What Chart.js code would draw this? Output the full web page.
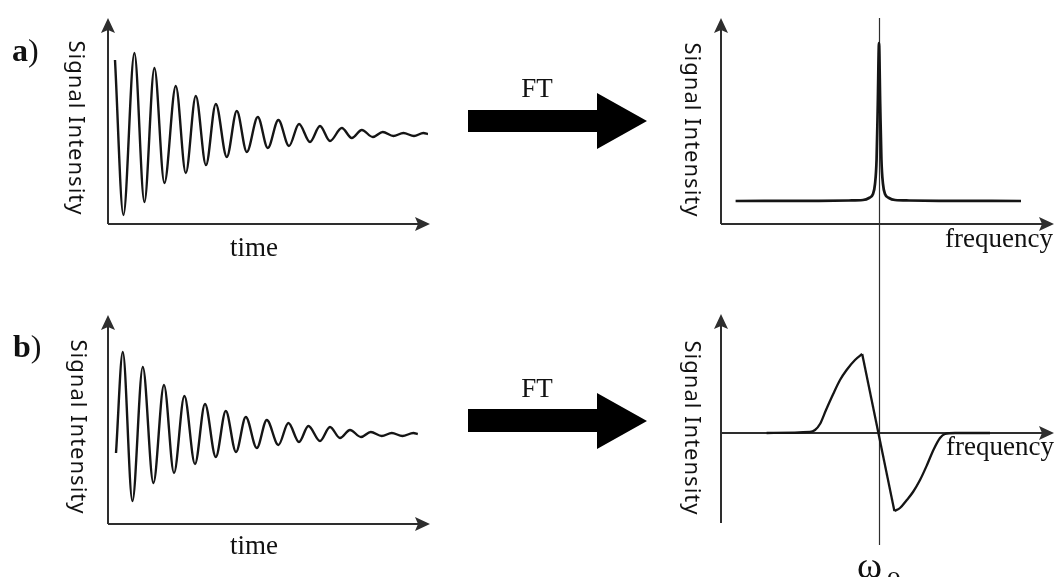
<!DOCTYPE html>
<html>
<head>
<meta charset="utf-8">
<script src="https://cdn.jsdelivr.net/npm/chart.js@4.4.1/dist/chart.umd.min.js"></script>
<style>
    body { margin: 0; background: #fff; }
    #fig { position: relative; width: 1054px; height: 577px; overflow: hidden; background: #fff; }
    .panel { position: absolute; }
    .serif { position: absolute; font-family: 'Liberation Serif', 'Times New Roman', serif; font-size: 27px; line-height: 1; color: #111; white-space: nowrap; }
    .tag { font-size: 32px; }
    .ylab { position: absolute; font-family: 'Noto Sans', 'Open Sans', sans-serif; font-size: 22px; letter-spacing: 1px; line-height: 1; color: #111; white-space: nowrap; transform: translate(-50%, -50%) rotate(90deg); }
    #arrows { position: absolute; left: 0; top: 0; }
</style>
</head>
<body>
<div id="fig">
    <div class="panel" style="left:100px;top:12px;width:340px;height:222px"><canvas id="chartAL"></canvas></div>
    <div class="panel" style="left:100px;top:305px;width:340px;height:230px"><canvas id="chartBL"></canvas></div>
    <div class="panel" style="left:700px;top:0px;width:354px;height:290px"><canvas id="chartAR"></canvas></div>
    <div class="panel" style="left:700px;top:290px;width:354px;height:287px"><canvas id="chartBR"></canvas></div>

    <svg id="arrows" width="1054" height="577">
        <polygon points="468,110 597,110 597,93 647,121 597,149 597,132 468,132" fill="#000"/>
        <polygon points="468,409 597,409 597,393 647,421 597,449 597,432 468,432" fill="#000"/>
    </svg>

    <div class="serif tag" style="left:12px;top:34px"><b>a</b>)</div>
    <div class="serif tag" style="left:13px;top:330px"><b>b</b>)</div>

    <div class="ylab" style="left:78px;top:128px">Signal Intensity</div>
    <div class="ylab" style="left:80px;top:427px">Signal Intensity</div>
    <div class="ylab" style="left:694px;top:130px">Signal Intensity</div>
    <div class="ylab" style="left:694px;top:428px">Signal Intensity</div>

    <div class="serif" style="left:254px;top:234px;transform:translateX(-50%)">time</div>
    <div class="serif" style="left:254px;top:532px;transform:translateX(-50%)">time</div>
    <div class="serif" style="left:945px;top:225px">frequency</div>
    <div class="serif" style="left:946px;top:433px">frequency</div>
    <div class="serif" style="left:537px;top:75px;transform:translateX(-50%)">FT</div>
    <div class="serif" style="left:537px;top:375px;transform:translateX(-50%)">FT</div>

    <div class="serif" style="left:857px;top:546px;font-size:38px">ω</div>
    <div class="serif" style="left:887px;top:563px">o</div>
</div>

<script>
// FID a) : time (ms) / amplitude, read at the turning points
const fidTimeA = [3.5, 7.7, 13.2, 18.2, 23.2, 28.2, 33.9, 38.9, 43.9, 49.0, 53.9, 59.4, 64.4, 69.4, 74.9, 79.9,
    85.2, 90.5, 95.5, 101.0, 106.0, 111.0, 116.9, 121.9, 126.9, 132.4, 137.4, 142.7, 147.7, 153.0, 157.7, 160.0]
const fidAmpA = [0.74, -0.81, 0.81, -0.68, 0.66, -0.49, 0.48, -0.39, 0.38, -0.31, 0.30, -0.23, 0.23, -0.18, 0.17, -0.14,
    0.14, -0.12, 0.10, -0.08, 0.08, -0.07, 0.06, -0.04, 0.04, -0.03, 0.02, -0.02, 0.01, -0.02, 0.01, 0.0]

// FID b)
const fidTimeB = [4.0, 7.4, 12.2, 17.4, 22.7, 28.0, 33.0, 38.2, 43.5, 48.5, 53.9, 58.9, 64.0, 68.9, 74.4, 79.4,
    85.2, 90.2, 95.5, 100.2, 106.0, 111.0, 116.0, 121.0, 126.5, 131.4, 136.9, 141.9, 147.2, 152.7, 154.9]
const fidAmpB = [-0.19, 0.82, -0.67, 0.67, -0.49, 0.49, -0.39, 0.38, -0.30, 0.30, -0.23, 0.23, -0.18, 0.17, -0.14, 0.14,
    -0.11, 0.11, -0.08, 0.08, -0.07, 0.07, -0.04, 0.04, -0.03, 0.02, -0.02, 0.01, -0.02, 0.01, 0.0]

// spectrum a) : absorption line, frequency offset from w0
const absFreq = [-71.7, -30, -15, -8, -5, -3, -2, -1.2, -0.6, 0, 0.6, 1.2, 2, 3, 5, 8, 15, 30, 71]
const absInt = [0.23, 0.232, 0.235, 0.24, 0.26, 0.30, 0.40, 0.65, 1.2, 1.81, 1.2, 0.65, 0.40, 0.30, 0.26, 0.24, 0.235, 0.232, 0.23]

// spectrum b) : dispersion line
const dispFreq = [-56.2, -34.5, -32, -29.5, -26.5, -22.9, -19.5, -16.2, -12, -8.4, 7.7, 10.5, 13.9, 17, 20.5, 24, 27.2, 30.5, 33, 38, 55.5]
const dispInt = [0, 0.01, 0.03, 0.09, 0.23, 0.39, 0.53, 0.63, 0.73, 0.79, -0.78, -0.75, -0.67, -0.59, -0.47, -0.32, -0.17, -0.05, -0.01, 0, 0]

const INK = '#151515'
const AXIS = '#2e2e2e'

function toPoints(xs, ys) {
    return xs.map((x, i) => ({ x: x, y: ys[i] }))
}

// axes with arrow heads + the w0 marker line
const figAxes = {
    id: 'figAxes',
    beforeDatasetsDraw(chart, args, opts) {
        const { ctx, chartArea, scales } = chart
        const left = chartArea.left
        const yAxisY = opts.baseline == null ? chartArea.bottom : scales.y.getPixelForValue(opts.baseline)
        ctx.save()
        if (opts.marker) {
            const mx = Math.round(scales.x.getPixelForValue(0)) + 0.5
            ctx.strokeStyle = AXIS
            ctx.lineWidth = 1.2
            ctx.beginPath()
            ctx.moveTo(mx, opts.marker[0])
            ctx.lineTo(mx, opts.marker[1])
            ctx.stroke()
        }
        ctx.strokeStyle = AXIS
        ctx.fillStyle = AXIS
        ctx.lineWidth = 2
        ctx.beginPath()
        ctx.moveTo(left, chartArea.bottom)
        ctx.lineTo(left, chartArea.top + 10)
        ctx.moveTo(left, yAxisY)
        ctx.lineTo(chartArea.right - 10, yAxisY)
        ctx.stroke()
        // heads
        ctx.beginPath()
        ctx.moveTo(left, chartArea.top - 2)
        ctx.lineTo(left - 7, chartArea.top + 13)
        ctx.lineTo(left, chartArea.top + 10)
        ctx.lineTo(left + 7, chartArea.top + 13)
        ctx.closePath()
        ctx.fill()
        ctx.beginPath()
        ctx.moveTo(chartArea.right + 2, yAxisY)
        ctx.lineTo(chartArea.right - 13, yAxisY - 7)
        ctx.lineTo(chartArea.right - 10, yAxisY)
        ctx.lineTo(chartArea.right - 13, yAxisY + 7)
        ctx.closePath()
        ctx.fill()
        ctx.restore()
    }
}

function lineSet(points, width, mode) {
    return {
        data: points,
        borderColor: INK,
        borderWidth: width,
        pointRadius: 0,
        fill: false,
        cubicInterpolationMode: mode,
        tension: 0
    }
}

function makeChart(id, datasets, range, padding, axesOpts) {
    return new Chart(document.getElementById(id), {
        type: 'line',
        data: { datasets: datasets },
        options: {
            responsive: true,
            maintainAspectRatio: false,
            animation: false,
            events: [],
            layout: { padding: padding },
            scales: {
                x: { type: 'linear', display: false, min: range[0], max: range[1] },
                y: { type: 'linear', display: false, min: range[2], max: range[3] }
            },
            plugins: {
                legend: { display: false },
                tooltip: { enabled: false },
                figAxes: axesOpts
            }
        },
        plugins: [figAxes]
    })
}

// dispersion curve is split at its peak and trough so the corners stay sharp
const iPeak = dispInt.indexOf(Math.max(...dispInt))
const iTrough = dispInt.indexOf(Math.min(...dispInt))
const dispPts = toPoints(dispFreq, dispInt)

makeChart('chartAL', [lineSet(toPoints(fidTimeA, fidAmpA), 2.4, 'monotone')],
    [0, 160, -0.90, 1.14], { left: 8, top: 8, right: 12, bottom: 10 }, {})

makeChart('chartBL', [lineSet(toPoints(fidTimeB, fidAmpB), 2.4, 'monotone')],
    [0, 160, -0.90, 1.17], { left: 8, top: 12, right: 12, bottom: 11 }, {})

makeChart('chartAR', [lineSet(toPoints(absFreq, absInt), 2.7, 'monotone')],
    [-79, 86.5, 0, 2.04], { left: 21, top: 20, right: 2, bottom: 66 }, { marker: [18, 290] })

makeChart('chartBR', [
        lineSet(dispPts.slice(0, iPeak + 1), 2.3, 'monotone'),
        lineSet(dispPts.slice(iPeak, iTrough + 1), 2.3, 'default'),
        lineSet(dispPts.slice(iTrough), 2.3, 'monotone')
    ],
    [-79, 86.5, -0.90, 1.17], { left: 21, top: 26, right: 2, bottom: 54 }, { baseline: 0, marker: [0, 255] })
</script>
</body>
</html>
